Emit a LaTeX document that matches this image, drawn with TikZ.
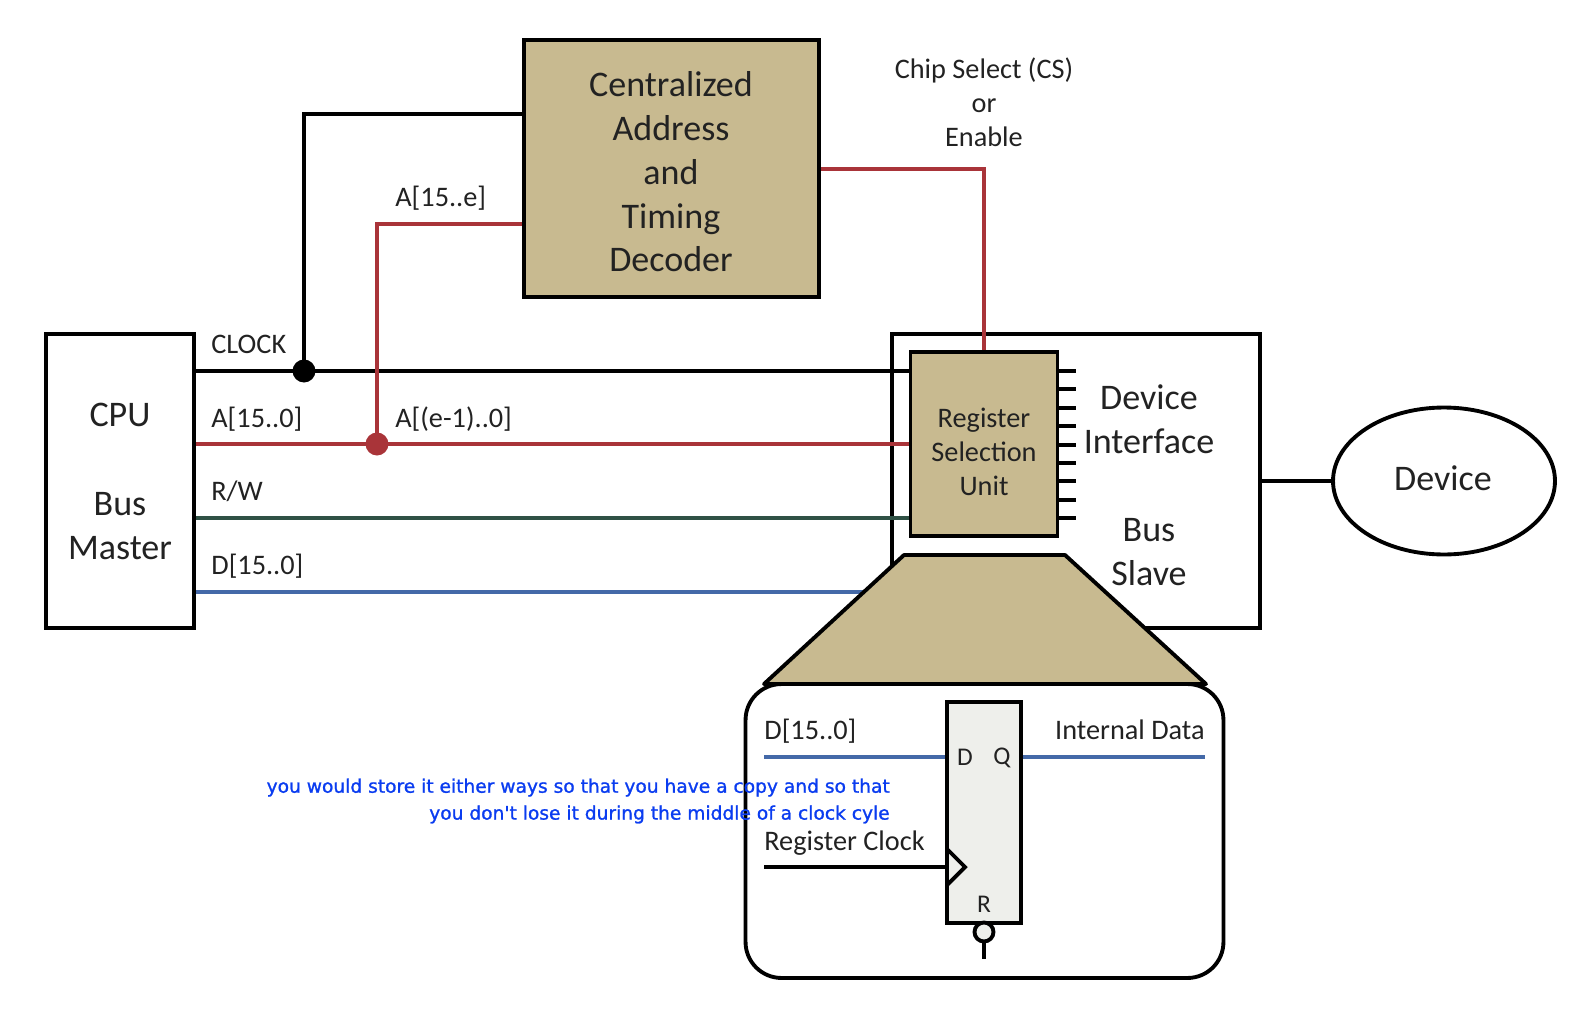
\documentclass[tikz,border=0pt]{standalone}
\usepackage{fontspec}
\usetikzlibrary{shapes.geometric}
\setmainfont{Carlito}
\newfontfamily\notefont[FakeBold=1.2]{DejaVu Sans}
\definecolor{boxtan}{HTML}{C8BA90}
\definecolor{addrred}{HTML}{A93439}
\definecolor{rwgreen}{HTML}{2F5145}
\definecolor{datablue}{HTML}{4469A8}
\definecolor{ffgray}{HTML}{EEEFEB}
\definecolor{noteblue}{HTML}{0A3CF0}
\definecolor{labelgray}{HTML}{222222}
\tikzset{
  wire/.style={line width=2.2pt,line join=miter},
  block/.style={draw,line width=2.2pt,inner sep=0pt,align=center},
  bigtext/.style={font=\fontsize{20.5}{24.9}\selectfont,text=labelgray,align=center,inner sep=0pt},
  smalltext/.style={font=\fontsize{16.1}{19.3}\selectfont,text=labelgray,align=center,inner sep=0pt},
  notetext/.style={font=\notefont\fontsize{10.6}{15.3}\selectfont,text=noteblue,align=right,inner sep=0pt,anchor=east}
}
\begin{document}
\begin{tikzpicture}[x=0.02cm,y=-0.02cm]
  \useasboundingbox (0,0) rectangle (1572,1014);
  % boxes
  \node[block,minimum width=2.96cm,minimum height=5.88cm] (cpu) at (120,481) {};
  \node[block,fill=boxtan,minimum width=5.9cm,minimum height=5.14cm] (decoder) at (671.5,168.5) {};
  \node[block,minimum width=7.36cm,minimum height=5.88cm] (slave) at (1076,481) {};
  \node[block,fill=boxtan,minimum width=2.94cm,minimum height=3.68cm] (regsel) at (984,444) {};
  \node[draw,ellipse,line width=2.2pt,minimum width=4.44cm,minimum height=2.94cm,inner sep=0pt] (device) at (1444,481) {};
  % bus lines
  \node[circle,fill=black,inner sep=0pt,minimum size=0.46cm] (clkdot) at (304,371) {};
  \node[circle,fill=addrred,inner sep=0pt,minimum size=0.46cm] (addrdot) at (377,444) {};
  \coordinate (clkup) at (304,114);
  \coordinate (addrup) at (377,224);
  \coordinate (csbend) at (984,169);
  \coordinate (rwpt) at (0,518);
  \coordinate (datapt) at (0,592);
  \coordinate (devpt) at (0,481);
  \draw[wire] (cpu.east |- clkdot) -- (regsel.west |- clkdot);
  \draw[wire] (clkdot.center) -- (clkup) -- (decoder.west |- clkup);
  \draw[wire,addrred] (cpu.east |- addrdot) -- (regsel.west |- addrdot);
  \draw[wire,addrred] (addrdot.center) -- (addrup) -- (decoder.west |- addrup);
  \draw[wire,addrred] (decoder.east |- csbend) -- (csbend) -- (regsel.north);
  \draw[wire,rwgreen] (cpu.east |- rwpt) -- (regsel.west |- rwpt);
  \draw[wire,datablue] (cpu.east |- datapt) -- (slave.west |- datapt);
  \draw[wire] (slave.east |- devpt) -- (device.west);
  % pins
  \foreach \y in {0,...,8}
    \draw[wire] (1058,371+18.4*\y) -- (1076,371+18.4*\y);
  % zoomed part
  \node[block,fill=white,rounded corners=0.72cm,minimum width=9.56cm,minimum height=5.88cm] (zoombox) at (984.5,831) {};
  \draw[wire,fill=boxtan,line join=round] (904,555) -- (1065,555) -- (1206,684) -- (764,684) -- cycle;
  \node[block,fill=ffgray,minimum width=1.48cm,minimum height=4.42cm] (ff) at (984,812.5) {};
  \coordinate (dleft) at (764,757);
  \coordinate (qright) at (1205,757);
  \coordinate (clkleft) at (764,867);
  \draw[wire,datablue] (dleft) -- (ff.west |- dleft);
  \draw[wire,datablue] (ff.east |- qright) -- (qright);
  \draw[wire] (clkleft) -- (ff.west |- clkleft);
  \draw[wire,line join=miter] (947,849) -- (965,867) -- (947,885);
  \node[draw,circle,fill=ffgray,line width=2.2pt,minimum size=0.38cm,inner sep=0pt] (bubble) at (984,932) {};
  \coordinate (rend) at (984,959);
  \draw[wire] (bubble.south) -- (rend);
  % big labels
  \node[bigtext] (decodertext) at (671,172) {Centralized\\Address\\and\\Timing\\Decoder};
  \node[bigtext] (cputext) at (120,415) {CPU};
  \node[bigtext] (mastertext) at (120,526) {Bus\\Master};
  \node[bigtext] (iftext) at (1149,419) {Device\\Interface};
  \node[bigtext] (bustext) at (1149,552) {Bus\\Slave};
  \node[bigtext] (devicetext) at (1443,478) {Device};
  % small labels
  \node[smalltext] (cstext) at (984,102) {Chip Select (CS)\\or\\Enable};
  \node[smalltext] (regseltext) at (984,452) {Register\\Selection\\Unit};
  \node[smalltext,anchor=base west] (clklabel) at (211,353) {CLOCK};
  \node[smalltext,anchor=base west] (alabel) at (211,427) {A[15..0]};
  \node[smalltext,anchor=base west] (lowlabel) at (395,427) {A[(e-1)..0]};
  \node[smalltext,anchor=base west] (highlabel) at (395,206) {A[15..e]};
  \node[smalltext,anchor=base west] (rwlabel) at (211,500) {R/W};
  \node[smalltext,anchor=base west] (dlabel) at (211,574) {D[15..0]};
  \node[smalltext,anchor=base west] (dinlabel) at (764,739) {D[15..0]};
  \node[smalltext,anchor=base east] (intlabel) at (1205,739) {Internal Data};
  \node[smalltext,anchor=base west] (reglabel) at (764,850) {Register Clock};
  \node[smalltext,font=\fontsize{14.5}{17}\selectfont] (dpin) at (965,757) {D};
  \node[smalltext,font=\fontsize{14.5}{17}\selectfont] (qpin) at (1002,758) {Q};
  \node[smalltext,font=\fontsize{14.5}{17}\selectfont] (rpin) at (984,904) {R};
  % note
  \node[notetext] (note) at (890,801) {you would store it either ways so that you have a copy and so that\\you don't lose it during the middle of a clock cyle};
\end{tikzpicture}
\end{document}
